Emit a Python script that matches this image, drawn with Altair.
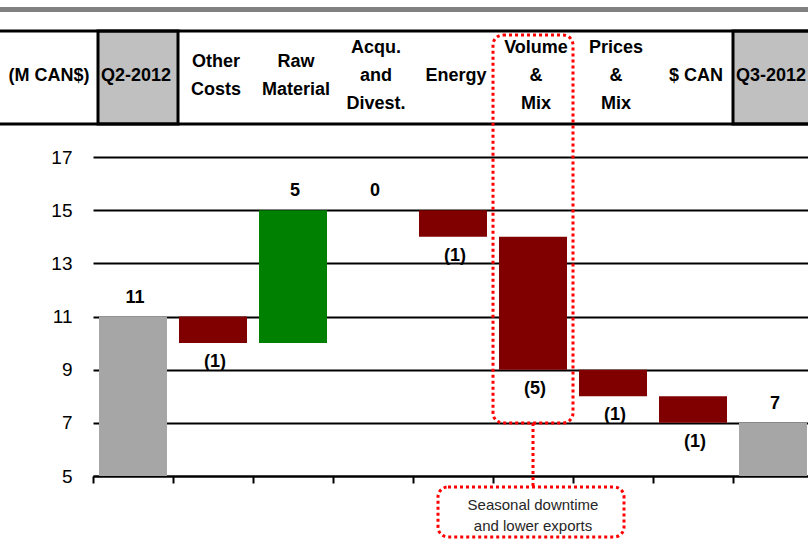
import altair as alt
import pandas as pd

# Bridge from Q2-2012 to Q3-2012 EBITDA (M CAN$)
categories = ["Q2-2012", "Other Costs", "Raw Material", "Acqu. and Divest.",
              "Energy", "Volume & Mix", "Prices & Mix", "$ CAN", "Q3-2012"]
header_text = ["Q2-2012", "Other\nCosts", "Raw\nMaterial", "Acqu.\nand\nDivest.",
               "Energy", "Volume\n&\nMix", "Prices\n&\nMix", "$ CAN", "Q3-2012"]
values = [11, -1, 5, 0, -1, -5, -1, -1, 7]
kinds = ["total", "delta", "delta", "delta", "delta", "delta", "delta", "delta", "total"]
y_ticks = [5, 7, 9, 11, 13, 15, 17]
note_text = "Seasonal downtime\nand lower exports"
highlight = "Volume & Mix"

AXIS_MIN, AXIS_MAX = 5, 17
FONT = "Liberation Sans, Arial, sans-serif"
HEAD_MID, HEAD_LH = -81, 28

# cumulative start/end of each bar
rows, running = [], 0
for cat, head, v, k in zip(categories, header_text, values, kinds):
    if k == "total":
        start, end, running = AXIS_MIN, v, v
        kind = "total"
    else:
        start, end = running, running + v
        running = end
        kind = "up" if v > 0 else ("down" if v < 0 else "flat")
    label = f"({-v})" if v < 0 else str(v)
    n_lines = head.count("\n") + 1
    rows.append(dict(category=cat, header=head, start=start, end=end,
                     kind=kind, label=label, neg=v < 0,
                     head_y=HEAD_MID - (n_lines - 1) * HEAD_LH / 2))
df = pd.DataFrame(rows)

x_enc = alt.X("category:N", sort=categories,
              scale=alt.Scale(range=[0, 720], paddingInner=0, paddingOuter=0),
              axis=alt.Axis(labels=False, title=None, ticks=True, tickBand="extent",
                            tickSize=7, tickWidth=2, tickColor="black",
                            domainColor="black", domainWidth=2, grid=False))
y_scale = alt.Scale(domain=[AXIS_MIN, AXIS_MAX], nice=False, zero=False)

base = alt.Chart(df)

bars = base.mark_bar(width={"band": 0.85}).encode(
    x=x_enc,
    y=alt.Y("start:Q", scale=y_scale,
            axis=alt.Axis(values=y_ticks, title=None, grid=True, gridColor="black",
                          gridWidth=2, domain=False, ticks=False, labelFont=FONT,
                          labelFontSize=19, labelColor="black", labelPadding=21)),
    y2="end:Q",
    color=alt.Color("kind:N", legend=None,
                    scale=alt.Scale(domain=["total", "up", "down", "flat"],
                                    range=["#a6a6a6", "#008000", "#800000", "#800000"])),
)

label_style = dict(font=FONT, fontSize=18, fontWeight="bold", color="black", dx=2)
labels_up = base.transform_filter("!datum.neg").mark_text(dy=-19, **label_style).encode(
    x=alt.X("category:N", sort=categories), y=alt.Y("end:Q", scale=y_scale), text="label:N")
labels_down = base.transform_filter("datum.neg").mark_text(dy=19, **label_style).encode(
    x=alt.X("category:N", sort=categories), y=alt.Y("end:Q", scale=y_scale), text="label:N")

# header table above the plot
one = pd.DataFrame({"k": [0]})
top_band = alt.Chart(one).mark_rule(color="#808080", strokeWidth=5).encode(
    x=alt.value(-93), x2=alt.value(720), y=alt.value(-147.5))
head_cells = alt.Chart(pd.DataFrame({"category": ["Q2-2012", "Q3-2012"],
                                     "shift": [5, 0]})).mark_rect(
    fill="#c0c0c0", stroke="black", strokeWidth=3).encode(
    x=alt.X("category:N", sort=categories), xOffset=alt.XOffset("shift:Q", scale=None),
    y=alt.value(-126), y2=alt.value(-33))
head_top = alt.Chart(one).mark_rule(color="black", strokeWidth=3).encode(
    x=alt.value(-93), x2=alt.value(720), y=alt.value(-126))
head_bottom = alt.Chart(one).mark_rule(color="black", strokeWidth=3).encode(
    x=alt.value(-93), x2=alt.value(720), y=alt.value(-33))
head_style = dict(font=FONT, fontSize=18, fontWeight="bold", color="black",
                  lineBreak="\n", lineHeight=HEAD_LH)
head_enc = dict(x=alt.X("category:N", sort=categories),
                y=alt.Y("head_y:Q", scale=None), text="header:N")
last_cat = categories[-1]
head_text = base.transform_filter(alt.datum.category != last_cat).mark_text(
    dx=3, **head_style).encode(**head_enc)
head_text_last = base.transform_filter(alt.datum.category == last_cat).mark_text(
    dx=-2, **head_style).encode(**head_enc)
unit_text = alt.Chart(one).mark_text(font=FONT, fontSize=18, fontWeight="bold",
                                     color="black", text="(M CAN$)").encode(
    x=alt.value(-44), y=alt.value(HEAD_MID))

# highlight around the volume column and its note
hl = pd.DataFrame({"category": [highlight], "note": [note_text]})
red_dots = dict(stroke="#ff0000", strokeWidth=3, strokeDash=[3, 3])
hl_box = alt.Chart(hl).mark_rect(fillOpacity=0, cornerRadius=10, **red_dots).encode(
    x=alt.X("category:N", sort=categories), y=alt.value(-122), y2=alt.value(266))
hl_link = alt.Chart(hl).mark_rule(**red_dots).encode(
    x=alt.X("category:N", sort=categories), y=alt.value(266), y2=alt.value(330))
note_box = alt.Chart(hl).mark_rect(fill="white", cornerRadius=10, **red_dots).encode(
    x=alt.value(345), x2=alt.value(531), y=alt.value(330), y2=alt.value(380))
note = alt.Chart(hl).mark_text(font=FONT, fontSize=15, color="#262626",
                               lineBreak="\n", lineHeight=21).encode(
    x=alt.X("category:N", sort=categories), y=alt.value(347.5), text="note:N")

chart = alt.layer(
    bars, labels_up, labels_down,
    top_band, head_cells, head_top, head_bottom, head_text, head_text_last, unit_text,
    hl_box, hl_link, note_box, note,
).properties(
    width=715, height=319,
    autosize=alt.AutoSizeParams(type="none"),
    padding={"left": 93, "top": 157, "right": 0, "bottom": 65},
    background="white",
).configure_view(stroke=None)

chart.save("out.html", embed_options={"renderer": "svg", "actions": False})
